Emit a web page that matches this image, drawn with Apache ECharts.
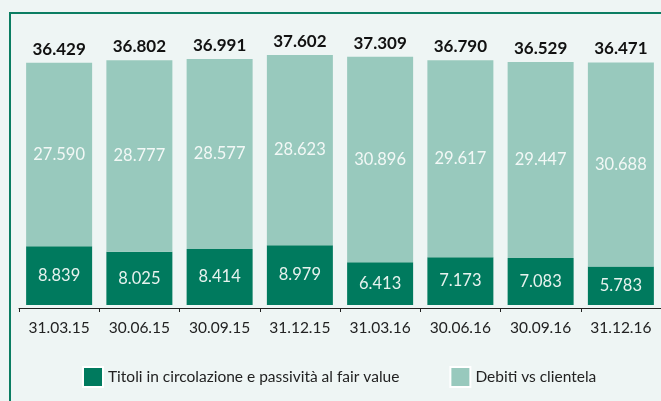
<!DOCTYPE html>
<html>
<head>
<meta charset="utf-8">
<script src="https://cdn.jsdelivr.net/npm/echarts@6/dist/echarts.min.js"></script>
<style>
  html, body { margin: 0; padding: 0; background: #eef5f4; }
  #main { width: 661px; height: 401px; }
</style>
</head>
<body>
<div id="main"></div>
<script>
// dati (milioni di euro)
var periodi = ['31.03.15', '30.06.15', '30.09.15', '31.12.15', '31.03.16', '30.06.16', '30.09.16', '31.12.16'];
var titoli = [8839, 8025, 8414, 8979, 6413, 7173, 7083, 5783];
var debiti = [27590, 28777, 28577, 28623, 30896, 29617, 29447, 30688];
var totali = [36429, 36802, 36991, 37602, 37309, 36790, 36529, 36471];

var scuro = '#007a5e';
var chiaro = '#98c9bd';
var font = 'Lato';

function fmt(v) {
    return String(v).replace(/\B(?=(\d{3})+(?!\d))/g, '.');
}

var myChart = echarts.init(document.getElementById('main'));
var option = {
    backgroundColor: '#eef5f4',
    animation: false,
    textStyle: { fontFamily: font },
    graphic: [
        { type: 'rect', shape: { x: 9, y: 12, width: 652, height: 2 }, style: { fill: '#0b7d62' } },
        { type: 'rect', shape: { x: 9, y: 12, width: 2, height: 389 }, style: { fill: '#0b7d62' } }
    ],
    grid: { left: 19, right: -1, top: 20, bottom: 93 },
    legend: {
        data: ['Titoli in circolazione e passività al fair value', 'Debiti vs clientela'],
        left: 77,
        top: 361,
        icon: 'rect',
        itemWidth: 20,
        itemHeight: 20,
        itemGap: 50,
        itemStyle: { borderColor: '#fff', borderWidth: 2 },
        textStyle: { fontFamily: font, fontSize: 15.5, color: '#222' }
    },
    xAxis: {
        type: 'category',
        data: periodi,
        axisLine: { onZero: false, lineStyle: { color: '#222', width: 1 } },
        axisTick: { show: true, length: 4, interval: 0, lineStyle: { color: '#222' } },
        axisLabel: { fontFamily: font, fontSize: 15.5, color: '#222', margin: 12, interval: 0 }
    },
    yAxis: {
        type: 'value',
        show: false,
        min: -450,
        max: 42850
    },
    series: [
        {
            name: 'Titoli in circolazione e passività al fair value',
            type: 'bar',
            stack: 'tot',
            barWidth: 66,
            data: titoli,
            itemStyle: { color: scuro },
            label: {
                show: true,
                position: 'inside',
                fontFamily: font,
                fontSize: 16.5,
                color: '#e6f2ee',
                formatter: function (p) { return fmt(p.value); }
            }
        },
        {
            name: 'Debiti vs clientela',
            type: 'bar',
            stack: 'tot',
            barWidth: 66,
            data: debiti,
            itemStyle: { color: chiaro },
            label: {
                show: true,
                position: 'inside',
                fontFamily: font,
                fontSize: 16.5,
                color: '#f2f8f6',
                formatter: function (p) { return fmt(p.value); }
            }
        },
        {
            name: 'totale',
            type: 'bar',
            stack: 'tot',
            barWidth: 66,
            data: totali.map(function () { return 0; }),
            itemStyle: { color: 'transparent' },
            label: {
                show: true,
                position: 'top',
                distance: 5,
                fontFamily: font,
                fontSize: 17,
                fontWeight: 'bold',
                color: '#111',
                formatter: function (p) { return fmt(totali[p.dataIndex]); }
            }
        }
    ]
};
myChart.setOption(option);
</script>
</body>
</html>
